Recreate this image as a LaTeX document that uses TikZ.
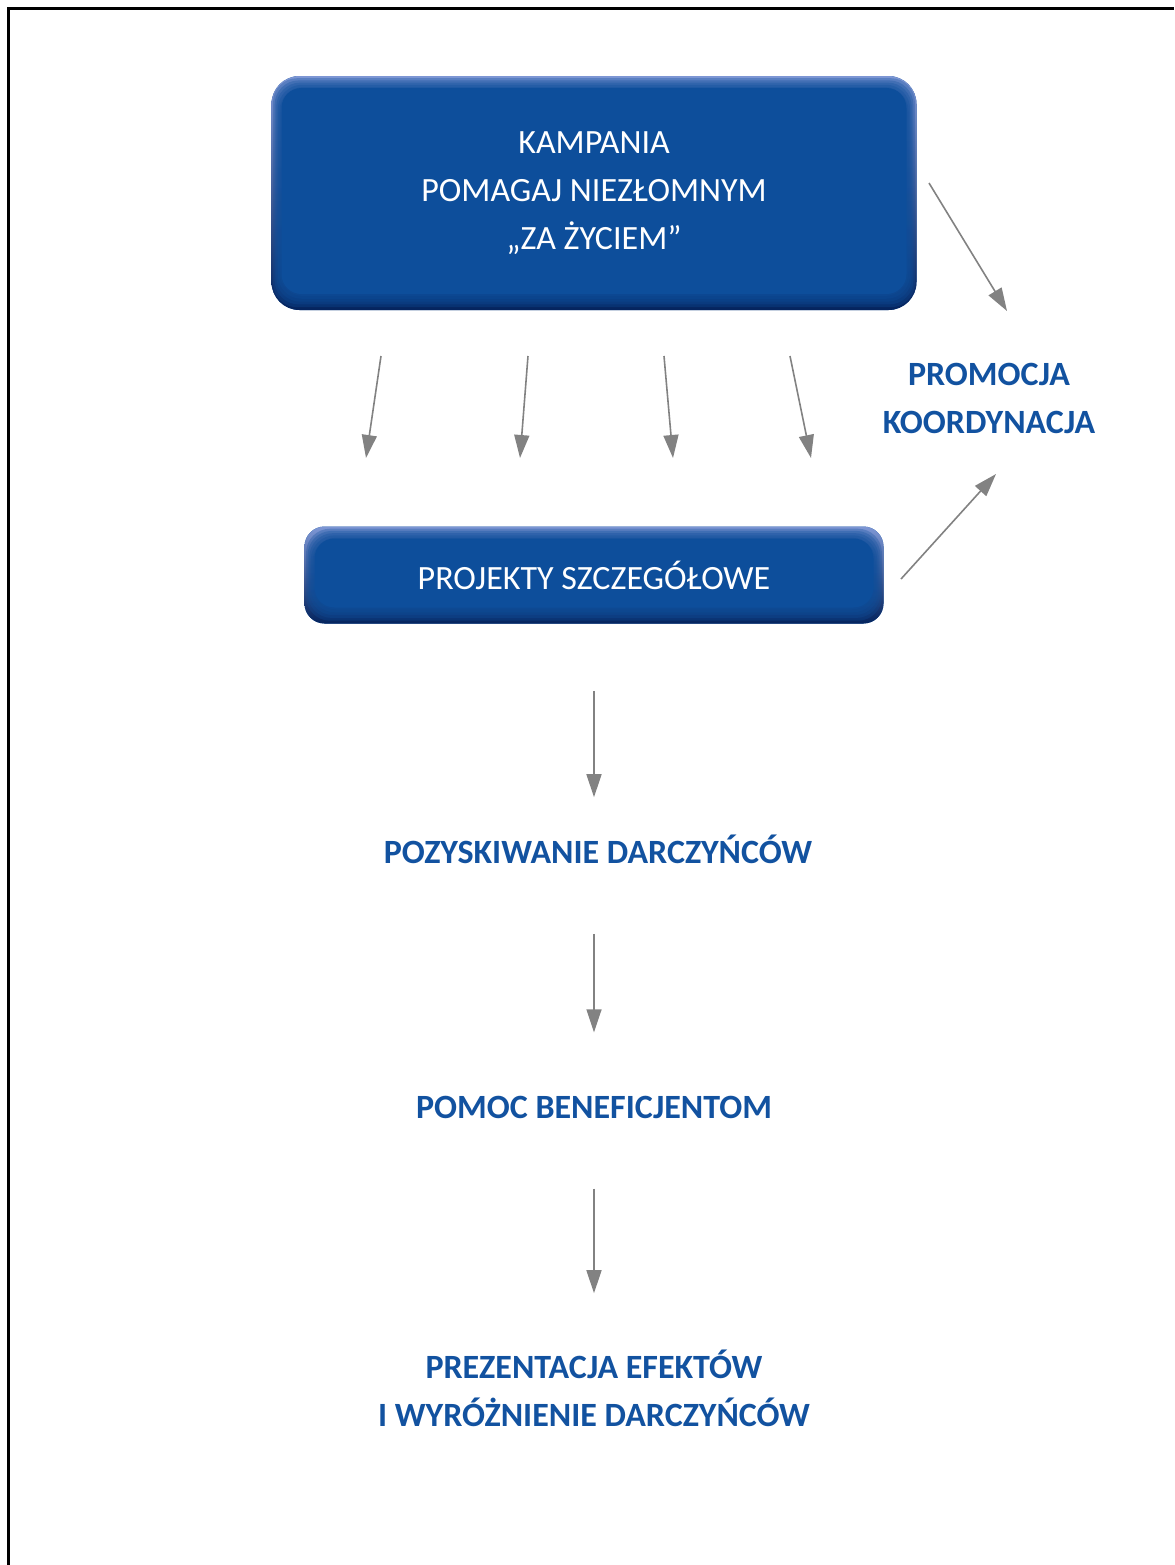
\documentclass[tikz,border=0pt]{standalone}
\usepackage{fontspec}
\setmainfont{Carlito}
\usepackage{tikz}
\usetikzlibrary{positioning, calc, arrows.meta}
\definecolor{boxblue}{RGB}{13,78,155}
\definecolor{boxlight}{RGB}{125,150,212}
\definecolor{boxdark}{RGB}{4,36,94}
\definecolor{textblue}{RGB}{18,82,160}
\definecolor{arrowgray}{RGB}{130,130,130}
\tikzstyle{bluebox} = [rectangle, rounded corners=14pt, fill=boxblue, text=white, align=center, font=\fontsize{17}{24}\selectfont,
  path picture={
    \shade[top color=boxlight, middle color=boxblue, bottom color=boxdark] (path picture bounding box.north west) rectangle (path picture bounding box.south east);
    \foreach \s in {1,2,3,4,5}
      \fill[boxblue, fill opacity=0.3, rounded corners=12pt] ($(path picture bounding box.north west)+(0.8*\s pt,-1.1*\s pt)$) rectangle ($(path picture bounding box.south east)+(-0.8*\s pt,1.4*\s pt)$);
    \fill[boxblue, rounded corners=10pt] ($(path picture bounding box.north west)+(5pt,-6pt)$) rectangle ($(path picture bounding box.south east)+(-5pt,8pt)$);
  }]
\tikzstyle{stage} = [align=center, inner sep=2pt, text=textblue, font=\bfseries\fontsize{17}{24}\selectfont]
\tikzstyle{arrow} = [line width=0.8pt, draw=arrowgray, -{Triangle[length=11.5pt,width=7.5pt]}]

\begin{document}
\begin{tikzpicture}[x=0.5pt, y=-0.5pt]
\useasboundingbox (0,0) rectangle (1174,1565);
\draw [line width=1.5pt] (8,1565) |- (1174,8);

\node (kampania) [bluebox, minimum width=322.5pt, minimum height=117pt] at (594,193) {KAMPANIA\\POMAGAJ NIEZŁOMNYM\\„ZA ŻYCIEM”};
\node (projekty) [bluebox, rounded corners=10pt, minimum width=289.5pt, minimum height=48.5pt] at (594,575) {PROJEKTY SZCZEGÓŁOWE};
\node (promocja) [stage] at (989,398) {PROMOCJA\\KOORDYNACJA};
\node (pozyskiwanie) [stage] at (598,849) {POZYSKIWANIE DARCZYŃCÓW};
\node (pomoc) [stage] at (594,1107) {POMOC BENEFICJENTOM};
\node (prezentacja) [stage] at (594,1388) {PREZENTACJA EFEKTÓW\\I WYRÓŻNIENIE DARCZYŃCÓW};

% campaign -> detailed projects
\foreach \xa/\xb [count=\i] in {381/366, 528/520, 664/673, 790/811} {
  \coordinate (a\i) at (\xa,356);
  \coordinate (b\i) at (\xb,458);
  \draw [arrow] (a\i) -- (b\i);
}

% promotion links
\coordinate (kd) at (929,183);
\coordinate (pd) at (1007,311);
\coordinate (ps) at (901,579);
\coordinate (pk) at (996,474);
\draw [arrow] (kd) -- (pd);
\draw [arrow] (ps) -- (pk);

% main flow
\draw [arrow, shorten <=33.5pt, shorten >=16.5pt] (projekty.south) -- (projekty.south |- pozyskiwanie.north);
\draw [arrow, shorten <=33pt, shorten >=29.5pt] (pozyskiwanie.south -| pomoc.north) -- (pomoc.north);
\draw [arrow, shorten <=33pt, shorten >=26pt] (pomoc.south) -- (prezentacja.north);

\end{tikzpicture}
\end{document}
